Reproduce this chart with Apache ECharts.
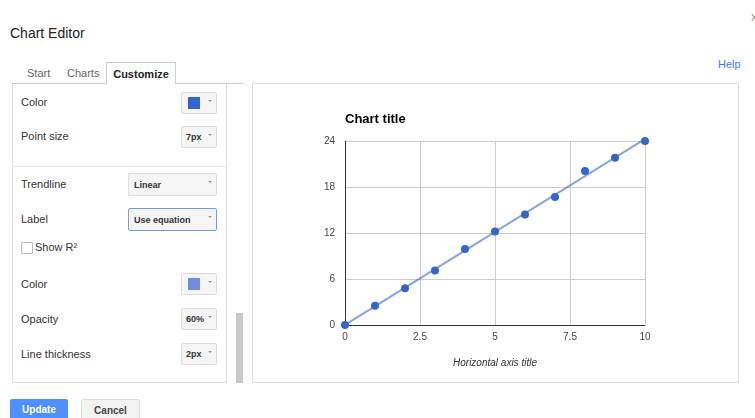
<!DOCTYPE html>
<html>
<head>
<meta charset="utf-8">
<script src="https://cdn.jsdelivr.net/npm/echarts@6/dist/echarts.min.js"></script>
<style>
  html, body { margin: 0; padding: 0; background: #fff; }
  body { width: 755px; height: 418px; position: relative; overflow: hidden;
         font-family: "Liberation Sans", Arial, sans-serif; color: #222; }
  .abs { position: absolute; }
  .title { left: 10px; top: 25px; font-size: 14px; color: #222; }
  .close { left: 751px; top: 9px; font-size: 13px; color: #999; }
  .help { left: 718px; top: 58px; font-size: 11px; color: #3b78e7; }
  .tab { top: 67px; font-size: 11px; color: #666; }
  .tabsel { left: 106px; top: 62px; width: 70px; height: 22px; border: 1px solid #ccc;
            border-bottom: none; background: #fff; font-size: 11px; font-weight: bold;
            color: #222; text-align: center; line-height: 22px; box-sizing: border-box; }
  .tabline { left: 12px; top: 83px; width: 231px; height: 1px; background: #ccc; }
  .panel { left: 12px; top: 84px; width: 215px; height: 299px; border: 1px solid #ddd;
           border-top: none; box-sizing: border-box; }
  .divider { left: 12px; top: 166px; width: 215px; height: 1px; background: #e5e5e5; }
  .lbl { left: 21px; font-size: 11px; color: #333; }
  .btn { left: 181px; width: 36px; height: 22px; border: 1px solid #ddd; border-radius: 2px;
         background: #f5f5f5; box-sizing: border-box; font-size: 9px; font-weight: bold; color: #333; }
  .btn .t { position: absolute; left: 4px; top: 5px; }
  .btn .a, .dd .a { position: absolute; right: 4px; top: 7px; width: 0; height: 0;
         border-left: 2px solid transparent; border-right: 2px solid transparent; border-top: 2px solid #999; }
  .sw { position: absolute; left: 6px; top: 4px; width: 12px; height: 12px; }
  .dd { left: 128px; width: 89px; height: 23px; border: 1px solid #ddd; border-radius: 2px;
        background: #f5f5f5; box-sizing: border-box; font-size: 9px; font-weight: bold; color: #333; }
  .dd .t { position: absolute; left: 5px; top: 6px; }
  .chk { left: 21px; top: 242px; width: 10px; height: 10px; border: 1px solid #bbb; border-radius: 1px; background: #fff; }
  .scroll { left: 236px; top: 313px; width: 7px; height: 70px; background: #c8c8c8; }
  .chartbox { left: 252px; top: 83px; width: 487px; height: 300px; border: 1px solid #ddd; box-sizing: border-box; }
  .update { left: 10px; top: 399px; width: 58px; height: 26px; background: #4d90fe; border-radius: 2px;
            color: #fff; font-size: 10px; font-weight: bold; text-align: center; line-height: 22px; }
  .cancel { left: 81px; top: 399px; width: 59px; height: 26px; background: #f3f3f3; border: 1px solid #ddd;
            border-radius: 2px; box-sizing: border-box; color: #444; font-size: 10px; font-weight: bold;
            text-align: center; line-height: 21px; }
  #chart { position: absolute; left: 253px; top: 84px; width: 485px; height: 298px; }
</style>
</head>
<body>
<div class="abs title">Chart Editor</div>
<div class="abs close">x</div>
<div class="abs help">Help</div>

<div class="abs tabline"></div>
<div class="abs tab" style="left:27px">Start</div>
<div class="abs tab" style="left:67px">Charts</div>
<div class="abs tabsel">Customize</div>

<div class="abs panel"></div>
<div class="abs divider"></div>

<div class="abs lbl" style="top:96px">Color</div>
<div class="abs btn" style="top:92px"><div class="sw" style="background:#3366cc"></div><div class="a"></div></div>

<div class="abs lbl" style="top:130px">Point size</div>
<div class="abs btn" style="top:126px"><span class="t">7px</span><div class="a"></div></div>

<div class="abs lbl" style="top:178px">Trendline</div>
<div class="abs dd" style="top:173px"><span class="t">Linear</span><div class="a"></div></div>

<div class="abs lbl" style="top:213px">Label</div>
<div class="abs dd" style="top:208px;border-color:#6d9eeb"><span class="t">Use equation</span><div class="a"></div></div>

<div class="abs chk"></div>
<div class="abs lbl" style="left:35px;top:241px">Show R²</div>

<div class="abs lbl" style="top:278px">Color</div>
<div class="abs btn" style="top:273px"><div class="sw" style="background:#6d8fdc"></div><div class="a"></div></div>

<div class="abs lbl" style="top:313px">Opacity</div>
<div class="abs btn" style="top:308px"><span class="t">60%</span><div class="a"></div></div>

<div class="abs lbl" style="top:348px">Line thickness</div>
<div class="abs btn" style="top:343px"><span class="t">2px</span><div class="a"></div></div>

<div class="abs scroll"></div>

<div class="abs chartbox"></div>
<div id="chart"></div>

<div class="abs update">Update</div>
<div class="abs cancel">Cancel</div>

<script>
// Scatter values (x, y)
var xValues = [0, 1, 2, 3, 4, 5, 6, 7, 8, 9, 10];
var yValues = [0, 2.5, 4.8, 7.1, 9.9, 12.2, 14.4, 16.7, 20.1, 21.8, 24];
var xTicks = [0, 2.5, 5, 7.5, 10];
var yTicks = [0, 6, 12, 18, 24];

var points = xValues.map(function (x, i) { return [x, yValues[i]]; });

// Least-squares linear trendline through the points
var n = xValues.length, mx = 0, my = 0;
for (var i = 0; i < n; i++) { mx += xValues[i]; my += yValues[i]; }
mx /= n; my /= n;
var sxy = 0, sxx = 0;
for (var j = 0; j < n; j++) {
  sxy += (xValues[j] - mx) * (yValues[j] - my);
  sxx += (xValues[j] - mx) * (xValues[j] - mx);
}
var slope = sxy / sxx, intercept = my - slope * mx;
var xMin = xTicks[0], xMax = xTicks[xTicks.length - 1];
var trend = [[xMin, intercept + slope * xMin], [xMax, intercept + slope * xMax]];

var chart = echarts.init(document.getElementById('chart'));
chart.setOption({
  animation: false,
  title: {
    text: 'Chart title', left: 87, top: 24,
    textStyle: { fontFamily: 'Liberation Sans, Arial', fontSize: 13, fontWeight: 'bold', color: '#000' }
  },
  grid: { left: 92, top: 57, width: 300, height: 184 },
  xAxis: {
    type: 'value', min: xMin, max: xMax, interval: 2.5,
    name: 'Horizontal axis title', nameLocation: 'middle', nameGap: 33,
    nameTextStyle: { fontFamily: 'Liberation Sans, Arial', fontSize: 10, fontStyle: 'italic', color: '#333' },
    axisLine: { lineStyle: { color: '#333', width: 1 } },
    axisTick: { show: false },
    axisLabel: { fontFamily: 'Liberation Sans, Arial', fontSize: 10, color: '#444', margin: 7 },
    splitLine: { lineStyle: { color: '#ccc' } }
  },
  yAxis: {
    type: 'value', min: yTicks[0], max: yTicks[yTicks.length - 1], interval: 6,
    axisLine: { show: true, lineStyle: { color: '#333', width: 1 } },
    axisTick: { show: false },
    axisLabel: { fontFamily: 'Liberation Sans, Arial', fontSize: 10, color: '#444', margin: 10 },
    splitLine: { lineStyle: { color: '#ccc' } }
  },
  series: [
    {
      type: 'line', data: trend, symbol: 'none', silent: true, z: 2,
      lineStyle: { color: '#3366cc', width: 2, opacity: 0.6 }
    },
    {
      type: 'scatter', data: points, symbolSize: 8, z: 3,
      itemStyle: { color: '#3366cc', opacity: 1 }
    }
  ]
});
</script>
</body>
</html>
